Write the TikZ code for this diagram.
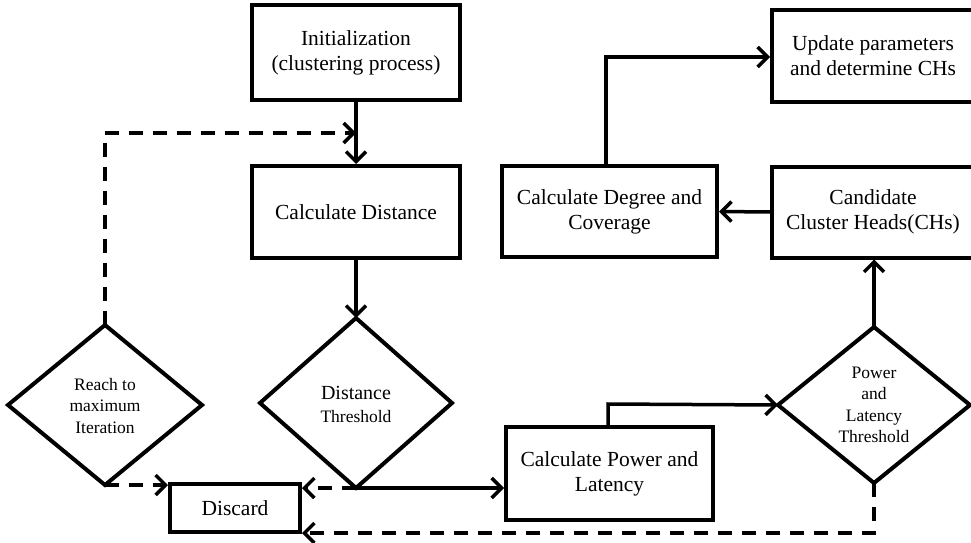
\documentclass[tikz,border=0pt]{standalone}
\usepackage{fontspec}
\setmainfont{Liberation Serif}
\usetikzlibrary{arrows.meta,shapes.geometric}
\begin{document}
\begin{tikzpicture}[x=1pt,y=-1pt,
  boxstyle/.style={draw,line width=4pt,rectangle,align=center,inner sep=0pt},
  conn/.style={line width=3.5pt,-{Straight Barb[length=10pt,width=20pt,line width=3.5pt]}},
  dconn/.style={conn,dash pattern=on 14pt off 10pt},
  bigtxt/.style={font=\fontsize{21.5}{25}\selectfont},
  smalltxt/.style={font=\fontsize{17.5}{21.5}\selectfont}]
\useasboundingbox (0,0) rectangle (971,543);
\clip (0,0) rectangle (971,543);
\fill[white] (0,0) rectangle (971,543);
% boxes
\node[boxstyle,bigtxt,minimum width=208pt,minimum height=95pt] (init) at (356,52.5) {Initialization\\(clustering process)};
\node[boxstyle,bigtxt,minimum width=208pt,minimum height=92pt] (dist) at (356,212) {Calculate Distance};
\node[boxstyle,bigtxt,minimum width=130pt,minimum height=48pt] (disc) at (235,508) {Discard};
\node[boxstyle,bigtxt,minimum width=207pt,minimum height=93pt] (pow) at (609.5,473.5) {Calculate Power and\\Latency};
\node[boxstyle,bigtxt,minimum width=215pt,minimum height=91pt] (deg) at (609.5,211.5) {Calculate Degree and\\Coverage};
\node[boxstyle,minimum width=206pt,minimum height=91pt] (cand) at (875,212) {};
\node[bigtxt,align=center] (candtxt) at (873,212) {Candidate\\Cluster Heads(CHs)};
\node[boxstyle,minimum width=206pt,minimum height=92pt] (upd) at (875,56) {};
\node[bigtxt,align=center] (updtxt) at (873,56) {Update parameters\\and determine CHs};
% diamonds
\draw[line width=4pt] (105,325) coordinate (rtop) -- (202,405) -- (105,485) coordinate (rbot) -- (8,405) -- cycle;
\node[smalltxt,align=center] (reach) at (105,406) {Reach to\\maximum\\Iteration};
\draw[line width=4pt] (356,318) coordinate (dtop) -- (452,403) -- (356,488) coordinate (dbot) -- (260,403) -- cycle;
\node[align=center,font=\fontsize{17.5}{23}\selectfont] (dthr) at (356,404) {{\fontsize{20}{23}\selectfont Distance}\\Threshold};
\draw[line width=4pt] (874,327) coordinate (ptop) -- (970,405) coordinate (pright) -- (874,483) coordinate (pbot) -- (778,405) coordinate (pleft) -- cycle;
\node[smalltxt,align=center] (pthr) at (874,405) {Power\\and\\Latency\\Threshold};
% connectors
\coordinate (jn) at (356,133);
\draw[conn] (init.south) -- (dist.north);
\draw[dconn] (rtop) -- (105,133) -- (jn);
\draw[conn] (dist.south) -- (dtop);
\draw[dconn] (rbot) -- (rbot -| disc.west);
\draw[dconn] (dbot) -- (disc.east |- dbot);
\draw[conn] (dbot) -- (pow.west |- dbot);
\draw[conn] (608,427) -- (608,404) -- (pleft);
\draw[conn] (ptop) -- (cand.south -| ptop);
\draw[conn] (cand.west) -- (deg.east);
\draw[conn] (606,166) -- (606,57) -- (upd.west |- 0,57);
\draw[dconn] (pbot) -- (874,533) -- (disc.east |- 0,533);
\end{tikzpicture}
\end{document}
